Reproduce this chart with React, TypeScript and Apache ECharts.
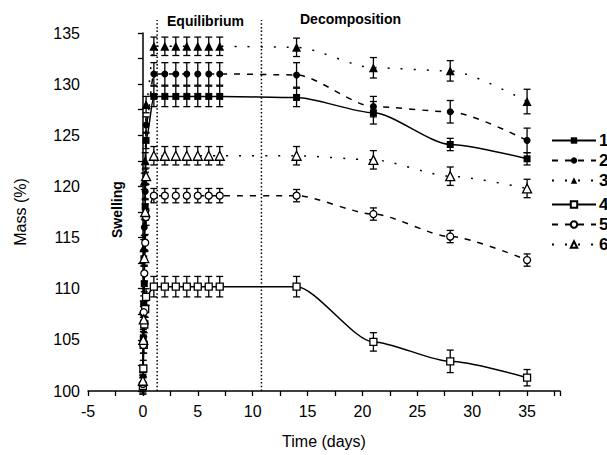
import React, { useEffect, useRef } from 'react';
import * as echarts from 'echarts';

// time points (days)
const swellT = [0, 0.04, 0.08, 0.13, 0.21, 0.29];
const eqT = [1, 2, 3, 4, 5, 6, 7];
const decT = [14, 21, 28, 35];
const times = [...swellT, ...eqT, ...decT];

const xTicks = [-5, 0, 5, 10, 15, 20, 25, 30, 35];
const yTicks = [100, 105, 110, 115, 120, 125, 130, 135];

const names = ['1', '2', '3', '4', '5', '6'];

const s1 = [100.5, 105.2, 108.5, 110.5, 118, 124.5, 128.8, 128.8, 128.8, 128.8, 128.8, 128.8, 128.8, 128.7, 127.2, 124.1, 122.7];
const s2 = [100.8, 107.5, 113, 116, 119.5, 126, 131.0, 131.0, 131.0, 131.0, 131.0, 131.0, 131.0, 130.9, 127.8, 127.3, 124.5];
const s3 = [101, 108, 114, 120.5, 122.5, 128, 133.7, 133.7, 133.7, 133.7, 133.7, 133.7, 133.7, 133.6, 131.6, 131.3, 128.3];
const s4 = [100.5, 102.2, 104.5, 106.5, 108, 109.2, 110.2, 110.2, 110.2, 110.2, 110.2, 110.2, 110.2, 110.2, 104.8, 102.9, 101.3];
const s5 = [100.7, 104.5, 107.7, 111.5, 114.5, 117, 119.1, 119.1, 119.1, 119.1, 119.1, 119.1, 119.1, 119.1, 117.3, 115.1, 112.8];
const s6 = [101, 105, 107, 113, 117.5, 121, 123.0, 123.0, 123.0, 123.0, 123.0, 123.0, 123.0, 123.0, 122.6, 121.0, 119.8];

const e1 = [0.8, 0.8, 0.8, 0.8, 0.8, 0.8, 1, 1, 1, 1, 1, 1, 1, 0.9, 1.1, 0.6, 0.6];
const e2 = [0.8, 0.8, 0.8, 0.8, 0.8, 0.8, 1.1, 1.1, 1.1, 1.1, 1.1, 1.1, 1.1, 1.2, 1.0, 1.1, 1.2];
const e3 = [0.8, 0.8, 0.8, 0.8, 0.8, 0.8, 0.9, 0.9, 0.9, 0.9, 0.9, 0.9, 0.9, 0.9, 1.0, 1.0, 1.2];
const e4 = [0.8, 0.8, 0.8, 0.8, 0.8, 0.8, 1.0, 1.0, 1.0, 1.0, 1.0, 1.0, 1.0, 1.0, 0.9, 1.1, 0.8];
const e5 = [0.8, 0.8, 0.8, 0.8, 0.8, 0.8, 0.7, 0.7, 0.7, 0.7, 0.7, 0.7, 0.7, 0.6, 0.6, 0.6, 0.6];
const e6 = [0.8, 0.8, 0.8, 0.8, 0.8, 0.8, 0.9, 0.9, 0.9, 0.9, 0.9, 0.9, 0.9, 0.9, 0.9, 0.9, 0.9];

const phaseLines = [1.3, 10.8];

const values = [s1, s2, s3, s4, s5, s6];
const errors = [e1, e2, e3, e4, e5, e6];

const symbols = ['rect', 'circle', 'triangle', 'rect', 'circle', 'triangle'];
const symbolSizes = [7, 7, 9, 7, 7, 9];
const filled = [true, true, true, false, false, false];
const lineTypes: any[] = ['solid', [6, 7], [2, 11], 'solid', [6, 7], [2, 11]];

const FONT = 'Liberation Sans, Arial, sans-serif';

export default function App() {
  const ref = useRef<HTMLDivElement>(null);
  useEffect(() => {
    const chart = echarts.init(ref.current!, undefined, { renderer: 'svg' });

    const lineSeries = names.map((n, k) => ({
      name: n,
      type: 'line',
      data: times.map((t, i) => [t, values[k][i]]),
      symbol: symbols[k],
      symbolSize: symbolSizes[k],
      smooth: 0.25,
      smoothMonotone: 'x',
      lineStyle: { color: '#000', width: 1.5, type: lineTypes[k] },
      itemStyle: {
        color: filled[k] ? '#000' : '#fff',
        borderColor: '#000',
        borderWidth: filled[k] ? 0 : 1.3,
      },
      z: 3,
      silent: true,
    }));

    const errSeries = names.map((n, k) => ({
      type: 'custom',
      data: times.map((t, i) => [t, values[k][i], errors[k][i]]),
      encode: { x: 0, y: 1 },
      z: 2,
      silent: true,
      renderItem: (params: any, api: any) => {
        const x = api.value(0);
        const y = api.value(1);
        const e = api.value(2);
        const hi = api.coord([x, y + e]);
        const lo = api.coord([x, y - e]);
        const w = 3.5;
        const st = { stroke: '#000', lineWidth: 1.3 };
        return {
          type: 'group',
          children: [
            { type: 'line', shape: { x1: hi[0], y1: hi[1], x2: lo[0], y2: lo[1] }, style: st },
            { type: 'line', shape: { x1: hi[0] - w, y1: hi[1], x2: hi[0] + w, y2: hi[1] }, style: st },
            { type: 'line', shape: { x1: lo[0] - w, y1: lo[1], x2: lo[0] + w, y2: lo[1] }, style: st },
          ],
        };
      },
    }));

    const phaseSeries = {
      type: 'custom',
      data: phaseLines.map((x) => [x, 100]),
      encode: { x: 0, y: 1 },
      z: 1,
      silent: true,
      renderItem: (params: any, api: any) => {
        const x = api.value(0);
        const p0 = api.coord([x, 100]);
        const p1 = api.coord([x, 135]);
        return {
          type: 'line',
          shape: { x1: p0[0], y1: p0[1], x2: p1[0], y2: p1[1] - 13 },
          style: { stroke: '#000', lineWidth: 1.5, lineDash: [1.5, 2.2] },
        };
      },
    };

    const legendCommon = {
      orient: 'vertical',
      left: 546,
      itemWidth: 44,
      itemHeight: 8,
      itemGap: 3,
      textStyle: { fontFamily: FONT, fontSize: 17, fontWeight: 'bold', color: '#000', padding: [0, 0, 0, -2] },
      selectedMode: false,
    };

    chart.setOption({
      animation: false,
      backgroundColor: '#fff',
      grid: { left: 88, right: 47, top: 33, bottom: 64 },
      xAxis: {
        type: 'value',
        min: -5,
        max: 38,
        interval: 2.5,
        name: 'Time (days)',
        nameLocation: 'middle',
        nameGap: 42,
        nameTextStyle: { fontFamily: FONT, fontSize: 16, color: '#000' },
        axisLine: { show: true, lineStyle: { color: '#000', width: 1.5 } },
        axisTick: { show: true, inside: false, length: 5, lineStyle: { color: '#000', width: 1.3 } },
        axisLabel: {
          margin: 12,
          fontFamily: FONT,
          fontSize: 16,
          color: '#000',
          formatter: (v: number) => (xTicks.indexOf(v) >= 0 ? String(v) : ''),
        },
        splitLine: { show: false },
      },
      yAxis: {
        type: 'value',
        min: 100,
        max: 135,
        interval: 2.5,
        name: 'Mass (%)',
        nameLocation: 'middle',
        nameGap: 60,
        nameTextStyle: { fontFamily: FONT, fontSize: 16, color: '#000' },
        axisLine: { show: true, lineStyle: { color: '#000', width: 1.5 } },
        axisTick: { show: true, inside: false, length: 5, lineStyle: { color: '#000', width: 1.3 } },
        axisLabel: {
          margin: 8,
          fontFamily: FONT,
          fontSize: 16,
          color: '#000',
          formatter: (v: number) => (yTicks.indexOf(v) >= 0 ? String(v) : ''),
        },
        splitLine: { show: false },
      },
      legend: [
        { ...legendCommon, top: 127, data: names.slice(0, 3) },
        { ...legendCommon, top: 191, data: names.slice(3, 6) },
      ],
      graphic: [
        {
          type: 'text',
          left: 167,
          top: 14,
          style: { text: 'Equilibrium', fontFamily: FONT, fontSize: 14, fontWeight: 'bold', fill: '#000' },
        },
        {
          type: 'text',
          left: 300,
          top: 12,
          style: { text: 'Decomposition', fontFamily: FONT, fontSize: 14, fontWeight: 'bold', fill: '#000' },
        },
        {
          type: 'text',
          x: 110,
          y: 238,
          rotation: Math.PI / 2,
          style: { text: 'Swelling', fontFamily: FONT, fontSize: 14, fontWeight: 'bold', fill: '#000' },
        },
      ],
      series: [phaseSeries, ...errSeries, ...lineSeries],
    });
    return () => chart.dispose();
  }, []);
  return <div ref={ref} style={{ position: 'absolute', left: 0, top: 0, width: 607, height: 455 }} />;
}
